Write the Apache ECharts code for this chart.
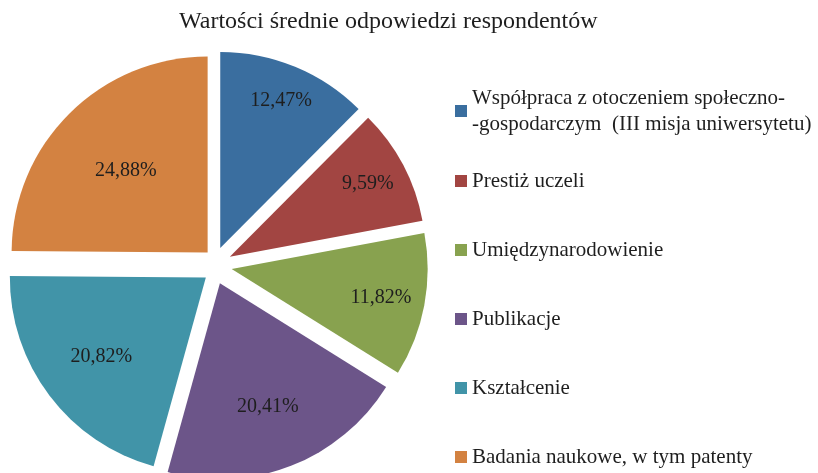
<!DOCTYPE html>
<html><head><meta charset="utf-8">
<script src="https://cdn.jsdelivr.net/npm/echarts@6/dist/echarts.min.js"></script>
<style>html,body{margin:0;padding:0;background:#fff}#c{width:818px;height:473px}</style>
</head><body><div id="c"></div>
<script>
const titleText = 'Wartości średnie odpowiedzi respondentów';
const categories = [
  'Współpraca z otoczeniem społeczno-\n-gospodarczym  (III misja uniwersytetu)',
  'Prestiż uczeli',
  'Umiędzynarodowienie',
  'Publikacje',
  'Kształcenie',
  'Badania naukowe, w tym patenty'
];
const values = [12.47, 9.59, 11.82, 20.41, 20.82, 24.88];

// styling
const colors = ['#3A6E9F', '#A24542', '#88A24F', '#6C5589', '#4194A8', '#D38241'];
const labelRadius = [160, 157, 153, 133, 132, 117];
const groupOf = [0, 0, 0, 0, 1, 1];
const groupCenters = [[213, 265.5], [221, 266]];
const R = 196, OFFSET = 19;
const FONT = 'Liberation Serif';

const total = values.reduce((a, b) => a + b, 0);
let cum = 0;
const mids = values.map(v => { const m = (cum + v / 2) / total * 2 * Math.PI; cum += v; return m; });

function fmt(v) { return v.toFixed(2).replace('.', ',') + '%'; }

function shiftOf(i) {
  const s = labelRadius[i] - (R / 2 + 4);
  return [s * Math.sin(mids[i]), -s * Math.cos(mids[i])];
}

function makeLabel(i, on) {
  const [sx, sy] = shiftOf(i);
  const sp = Math.max(1, Math.round(2 * Math.abs(sy)));
  const txt = '{v|' + fmt(values[i]) + '}';
  const formatter = sy < 0 ? txt + '\n{s| }' : '{s| }\n' + txt;
  return {
    show: on,
    position: 'inside',
    formatter: formatter,
    padding: [0, sx < 0 ? -2 * sx : 0, 0, sx > 0 ? 2 * sx : 0],
    rich: {
      v: { fontFamily: FONT, fontSize: 20, color: '#1e1e1e', lineHeight: 24 },
      s: { fontSize: 1, lineHeight: sp, height: sp }
    }
  };
}

function makeSeries(g) {
  return {
    type: 'pie',
    center: groupCenters[g],
    radius: [0, R],
    startAngle: 90,
    clockwise: true,
    selectedMode: 'multiple',
    selectedOffset: OFFSET,
    avoidLabelOverlap: false,
    silent: true,
    animation: false,
    labelLine: { show: false },
    emphasis: { disabled: true },
    itemStyle: { borderWidth: 0 },
    data: values.map((v, i) => {
      const on = groupOf[i] === g;
      return {
        name: categories[i],
        value: v,
        selected: true,
        itemStyle: { color: on ? colors[i] : 'rgba(0,0,0,0)', borderWidth: 0 },
        label: makeLabel(i, on)
      };
    })
  };
}

const legendCommon = {
  orient: 'vertical',
  left: 455,
  padding: 0,
  itemWidth: 12,
  itemHeight: 12,
  icon: 'rect',
  selectedMode: false,
  textStyle: { fontFamily: FONT, fontSize: 21, color: '#1e1e1e', lineHeight: 26 }
};

const option = {
  backgroundColor: '#fff',
  title: {
    text: titleText,
    left: 179,
    top: 10,
    padding: 0,
    textStyle: { fontFamily: FONT, fontSize: 24, fontWeight: 'normal', color: '#1e1e1e' }
  },
  legend: [
    Object.assign({}, legendCommon, {
      top: 72,
      data: [{ name: categories[0], itemStyle: { color: colors[0] },
               textStyle: { padding: [26, 0, 0, 0] } }]
    }),
    Object.assign({}, legendCommon, {
      top: 168,
      itemGap: 43,
      data: categories.slice(1).map((n, k) => ({ name: n, itemStyle: { color: colors[k + 1] } }))
    })
  ],
  series: [makeSeries(0), makeSeries(1)]
};

const chart = echarts.init(document.getElementById('c'), null, { renderer: 'canvas' });
chart.setOption(option);
</script>
</body></html>
